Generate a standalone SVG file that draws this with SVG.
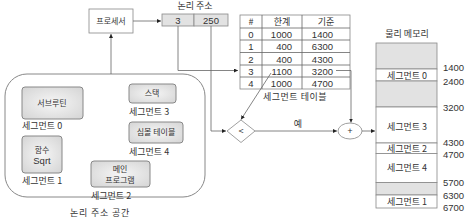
<svg xmlns="http://www.w3.org/2000/svg" width="471" height="219" viewBox="0 0 471 219">
<style>
text{font-family:"Noto Sans CJK KR","Liberation Sans",sans-serif;font-size:9px;fill:#333}
.n{font-family:"Liberation Sans","Noto Sans CJK KR",sans-serif;font-size:9.5px}
.s{font-size:8px}
.c{text-anchor:middle}
.r{text-anchor:end}
.box{fill:url(#g);stroke:#888;stroke-width:1}
.ln{fill:none;stroke:#666;stroke-width:0.8}
.tb{fill:#fff;stroke:#888;stroke-width:0.8}
.gr{fill:#e2e2e2;stroke:#888;stroke-width:0.8}
.wh{fill:#fff;stroke:#888;stroke-width:0.8}
</style>
<defs>
<radialGradient id="g" cx="0.5" cy="0.5" r="0.7">
<stop offset="0" stop-color="#f6f6f6"/>
<stop offset="1" stop-color="#d4d4d4"/>
</radialGradient>
<marker id="a" viewBox="0 0 6 6" refX="6" refY="3" markerWidth="5" markerHeight="5" orient="auto">
<path d="M0,0 L6,3 L0,6 z" fill="#222"/>
</marker>
</defs>

<g id="processor">
<rect x="89" y="9" width="44" height="24" fill="#fff" stroke="#888" stroke-width="0.8"/>
<text class="c s" x="111" y="24">프로세서</text>
</g>

<g id="logical-address">
<text class="c" x="195" y="9">논리 주소</text>
<rect class="gr" x="162" y="14" width="32" height="12"/>
<rect class="gr" x="194" y="14" width="34" height="12"/>
<text class="c n" x="178" y="23.5">3</text>
<text class="c n" x="211" y="23.5">250</text>
</g>

<g id="logical-space">
<rect x="5" y="74" width="200" height="123" rx="22" fill="#fff" stroke="#888" stroke-width="1"/>
<text class="c" x="100" y="216" letter-spacing="0.8">논리 주소 공간</text>
</g>

<g id="seg0">
<rect class="box" x="22" y="87" width="61" height="32" rx="3"/>
<text class="c s" x="52" y="106">서브루틴</text>
<text x="22" y="129">세그먼트 0</text>
</g>
<g id="seg1">
<rect class="box" x="22" y="136" width="40" height="37" rx="3"/>
<text class="c s" x="42" y="153">함수</text>
<text class="c n" x="42" y="163.5">Sqrt</text>
<text x="22" y="184">세그먼트 1</text>
</g>
<g id="seg2">
<rect class="box" x="91" y="161" width="59" height="26" rx="3"/>
<text class="c s" x="120" y="172">메인</text>
<text class="c s" x="120" y="183">프로그램</text>
<text x="91" y="199">세그먼트 2</text>
</g>
<g id="seg3">
<rect class="box" x="129" y="84" width="47" height="19" rx="3"/>
<text class="c s" x="152" y="96">스택</text>
<text x="129" y="115">세그먼트 3</text>
</g>
<g id="seg4">
<rect class="box" x="129" y="122" width="54" height="21" rx="3"/>
<text class="c s" x="156" y="135">심볼 테이블</text>
<text x="129" y="155">세그먼트 4</text>
</g>

<g id="segment-table">
<rect class="tb" x="240" y="15" width="110" height="74"/>
<path class="ln" d="M262,15V89M302,15V89M240,28H350M240,40H350M240,52.5H350M240,65H350M240,77H350" stroke="#888"/>
<text class="c" x="251" y="25">#</text>
<text class="c" x="282" y="25">한계</text>
<text class="c" x="326" y="25">기준</text>
<text class="c n" x="251" y="37.5">0</text><text class="r n" x="292" y="37.5">1000</text><text class="r n" x="333" y="37.5">1400</text>
<text class="c n" x="251" y="50">1</text><text class="r n" x="292" y="50">400</text><text class="r n" x="333" y="50">6300</text>
<text class="c n" x="251" y="62.5">2</text><text class="r n" x="292" y="62.5">400</text><text class="r n" x="333" y="62.5">4300</text>
<text class="c n" x="251" y="74.5">3</text><text class="r n" x="292" y="74.5">1100</text><text class="r n" x="333" y="74.5">3200</text>
<text class="c n" x="251" y="86.5">4</text><text class="r n" x="292" y="86.5">1000</text><text class="r n" x="333" y="86.5">4700</text>
<text class="c" x="295" y="100" letter-spacing="0.5">세그먼트 테이블</text>
</g>

<g id="compare">
<path d="M227,131 L241,120 L255,131 L241,142.5 z" fill="#fff" stroke="#888" stroke-width="0.8"/>
<text class="c" x="241" y="134">&lt;</text>
</g>

<g id="adder">
<ellipse cx="350" cy="131" rx="12" ry="8" fill="#fff" stroke="#888" stroke-width="0.8"/>
<text class="c" x="350" y="134">+</text>
</g>

<g id="physical-memory">
<text class="c" x="407" y="37">물리 메모리</text>
<rect class="gr" x="376" y="43" width="61" height="26"/>
<rect class="wh" x="376" y="69" width="61" height="12"/>
<rect class="gr" x="376" y="81" width="61" height="26"/>
<rect class="wh" x="376" y="107" width="61" height="36"/>
<rect class="wh" x="376" y="143" width="61" height="10.5"/>
<rect class="wh" x="376" y="153.5" width="61" height="29"/>
<rect class="gr" x="376" y="182.5" width="61" height="12.5"/>
<rect class="wh" x="376" y="195" width="61" height="13"/>
<text class="c" x="407" y="78.5">세그먼트 0</text>
<text class="c" x="407" y="130">세그먼트 3</text>
<text class="c" x="407" y="151.5">세그먼트 2</text>
<text class="c" x="407" y="171">세그먼트 4</text>
<text class="c" x="407" y="205">세그먼트 1</text>
<text class="n" x="443" y="71">1400</text>
<text class="n" x="443" y="85">2400</text>
<text class="n" x="443" y="111">3200</text>
<text class="n" x="443" y="146">4300</text>
<text class="n" x="443" y="158">4700</text>
<text class="n" x="443" y="186">5700</text>
<text class="n" x="443" y="199">6300</text>
<text class="n" x="443" y="211">6700</text>
</g>

<g id="connectors">
<path class="ln" d="M133,21H161" marker-end="url(#a)"/>
<path class="ln" d="M111,74V34" marker-end="url(#a)"/>
<path class="ln" d="M178,26V70.5H238" marker-end="url(#a)"/>
<path class="ln" d="M211,26V131H226" marker-end="url(#a)"/>
<path class="ln" d="M271,73L241,119.5" marker-end="url(#a)"/>
<path class="ln" d="M336,70.5H351V122.5" marker-end="url(#a)"/>
<path class="ln" d="M255,131H337" marker-end="url(#a)"/>
<text class="c" x="298" y="127">예</text>
<path class="ln" d="M362,131H375" marker-end="url(#a)"/>
</g>
</svg>
